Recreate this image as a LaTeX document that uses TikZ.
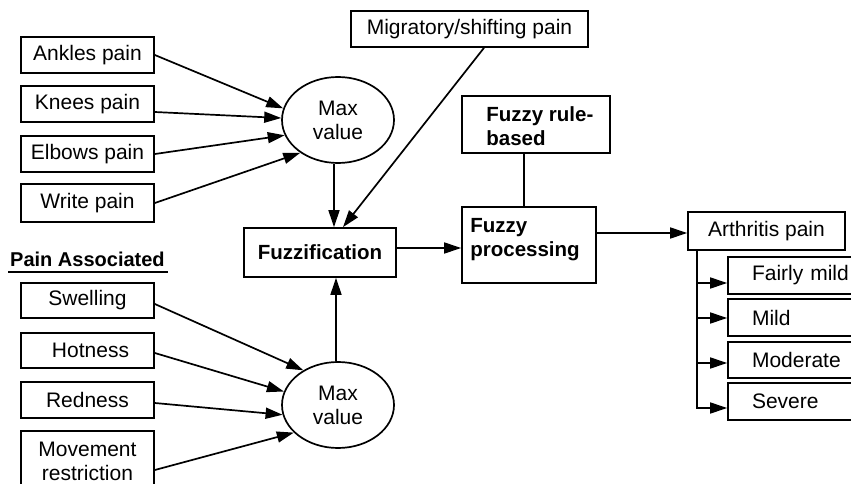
\documentclass[tikz,border=0pt]{standalone}
\usepackage{fontspec}
\setmainfont{Liberation Sans}
\usetikzlibrary{arrows.meta,shapes.geometric,calc}
\begin{document}
\begin{tikzpicture}[x=1pt,y=-1pt,
  every node/.style={font=\fontsize{21}{24}\selectfont, inner sep=0pt},
  box/.style={draw, line width=1.7pt, rectangle},
  lbox/.style={box, minimum width=133pt, minimum height=36pt},
  sub/.style={box, minimum width=148pt, minimum height=37pt, text width=100pt, inner xsep=24pt, align=left},
  oval/.style={draw, line width=1.7pt, ellipse, minimum width=112pt, minimum height=86pt, align=center},
  arr/.style={line width=1.7pt, -{Triangle[length=17pt,width=11pt]}},
  ln/.style={line width=1.7pt},
  bf/.style={font=\fontsize{20.5}{24}\selectfont\bfseries}]
\useasboundingbox (0,0) rectangle (851,484);
\clip (0,0) rectangle (851,484);
% left upper inputs
\node[lbox] (ankles) at (87.5,55) {Ankles pain};
\node[lbox] (knees) at (87.5,104) {Knees pain};
\node[lbox] (elbows) at (87.5,154) {Elbows pain};
\node[lbox, minimum height=38pt] (write) at (87.5,203) {Write pain};
% pain associated
\node[font=\fontsize{20}{24}\selectfont\bfseries, anchor=base west] (pa) at (10,266) {Pain Associated};
\draw[ln] ($(pa.base west)+(-2,6)$) -- ($(pa.base east)+(3,6)$);
\node[lbox, minimum height=35pt] (swell) at (87.5,300.5) {Swelling};
\node[lbox, minimum height=35pt] (hot) at (87.5,350.5) {\hspace{6pt}Hotness};
\node[lbox] (red) at (87.5,400) {Redness};
\node[lbox, minimum height=60pt, align=center] (move) at (87.5,461) {Movement\\restriction};
% ellipses
\node[oval] (maxtop) at (338,120) {Max\\value};
\node[oval] (maxbot) at (338,405) {Max\\value};
% central
\node[box, minimum width=237pt, minimum height=36pt] (migr) at (469.5,29) {Migratory/shifting pain};
\node[box, minimum width=148pt, minimum height=57pt] (rule) at (536,124.5) {};
\node[bf, anchor=west, align=left] (ruletxt) at ($(rule.west)+(25,2)$) {Fuzzy rule-\\based};
\node[box, bf, minimum width=152pt, minimum height=49pt] (fuzz) at (320,252.5) {Fuzzification};
\node[box, minimum width=134pt, minimum height=76pt] (proc) at (529,245) {};
\node[bf, anchor=west, align=left] (proctxt) at ($(proc.west)+(9,-5)$) {Fuzzy\\processing};
% outputs
\node[box, minimum width=157pt, minimum height=38pt] (arth) at (766.5,231) {Arthritis pain};
\node[sub] (fm) at (802,275.5) {Fairly mild};
\node[sub] (mild) at (802,317.5) {Mild};
\node[sub, minimum height=36pt] (mod) at (802,360) {Moderate};
\node[sub] (sev) at (802,401.5) {Severe};
% connectors upper
\draw[arr] (ankles.east) -- (maxtop.168);
\draw[arr] ($(knees.east)+(0,8)$) -- (maxtop.178);
\draw[arr] (elbows.east) -- (maxtop.196);
\draw[arr] (write.east) -- (maxtop.221);
% connectors lower
\draw[arr] ($(swell.east)+(0,3.5)$) -- (maxbot.135);
\draw[arr] ($(hot.east)+(0,2.5)$) -- (maxbot.166);
\draw[arr] ($(red.east)+(0,3)$) -- (maxbot.190);
\draw[arr] ($(move.east)+(0,9)$) -- (maxbot.212);
% into fuzzification
\coordinate (mt) at ($(maxtop.south)+(-4,0)$);
\draw[arr] (mt) -- (mt |- fuzz.north);
\coordinate (mb) at ($(maxbot.north)+(-2,0)$);
\draw[arr] (mb) -- (mb |- fuzz.south);
\draw[arr] ($(migr.south)+(14.5,0)$) -- ($(fuzz.north)+(23,0)$);
% fuzzification -> processing
\coordinate (fp) at ($(fuzz.east)+(0,-4.5)$);
\draw[arr] (fp) -- (fp -| proc.west);
\coordinate (rp) at ($(rule.south)+(-12,0)$);
\draw[ln] (rp) -- (rp |- proc.north);
\coordinate (pa2) at ($(arth.west)+(0,2)$);
\draw[arr] (pa2 -| proc.east) -- (pa2);
% tree
\coordinate (tr) at ($(arth.south west)+(10,0)$);
\coordinate (t1) at ($(fm.west)+(0,7.5)$);
\coordinate (t2) at ($(mild.west)+(0,0.5)$);
\coordinate (t3) at ($(mod.west)+(0,3)$);
\coordinate (t4) at ($(sev.west)+(0,6.5)$);
\draw[arr] (tr) -- (tr |- t4) -- (t4);
\draw[arr] (tr |- t1) -- (t1);
\draw[arr] (tr |- t2) -- (t2);
\draw[arr] (tr |- t3) -- (t3);
\end{tikzpicture}
\end{document}
